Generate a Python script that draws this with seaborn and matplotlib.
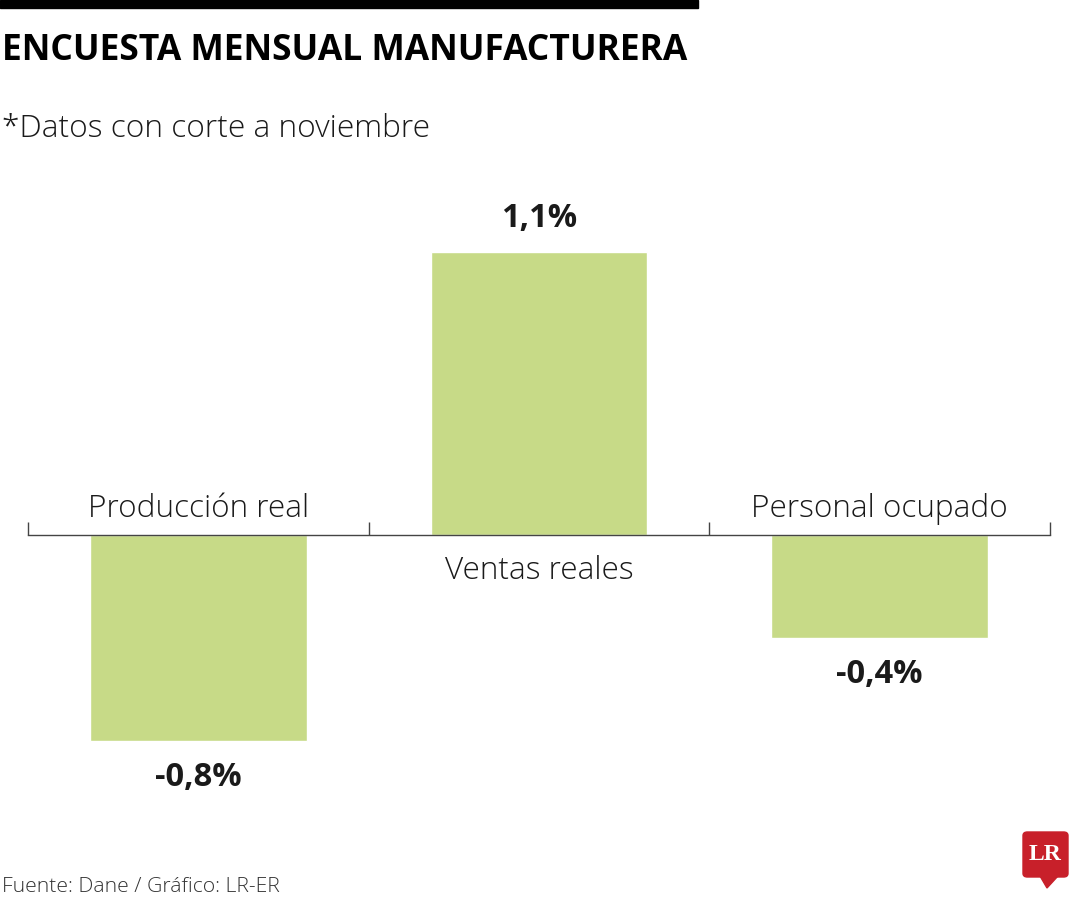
import numpy as np
import pandas as pd
import seaborn as sns
import matplotlib.pyplot as plt
from matplotlib.patches import FancyBboxPatch, Polygon, Rectangle

# === Datos ===
categorias = ["Producción real", "Ventas reales", "Personal ocupado"]
valores = [-0.8, 1.1, -0.4]
etiquetas = ["-0,8%", "1,1%", "-0,4%"]

titulo = "ENCUESTA MENSUAL MANUFACTURERA"
subtitulo = "*Datos con corte a noviembre"
fuente = "Fuente: Dane / Gráfico: LR-ER"

verde = "#c7da87"

sns.set_style("white")
plt.rcParams["font.family"] = ["Open Sans", "DejaVu Sans"]

df = pd.DataFrame({"categoria": categorias, "valor": valores})

W, H = 1080, 900
fig = plt.figure(figsize=(W / 100, H / 100), dpi=100)

# eje: cero en y=535 px, 257.4 px por unidad
y0_px, px_unit = 535, 257.4
top_px, bot_px = 150, 850
ax = fig.add_axes([28 / W, 1 - bot_px / H, 1022 / W, (bot_px - top_px) / H])
sns.barplot(data=df, x="categoria", y="valor", color=verde, width=0.636,
            saturation=1, ax=ax)
ax.set_xlim(-0.5, 2.5)
ax.set_ylim(-(bot_px - y0_px) / px_unit, (y0_px - top_px) / px_unit)

for s in ["top", "right", "left"]:
    ax.spines[s].set_visible(False)
ax.spines["bottom"].set_position(("data", 0))
ax.spines["bottom"].set_color("#444444")
ax.spines["bottom"].set_linewidth(1.0)
ax.set_xticks([-0.5, 0.5, 1.5, 2.5])
ax.set_xticklabels([])
ax.tick_params(axis="x", bottom=True, direction="in", length=9.5, width=1.0,
               color="#444444")
ax.set_yticks([])
ax.set_xlabel("")
ax.set_ylabel("")
ax.patch.set_alpha(0)

# etiquetas de categoria y valores
for i, (cat, val, lab) in enumerate(zip(categorias, valores, etiquetas)):
    off_cat = 13 if val < 0 else -31.7
    ax.annotate(cat, xy=(i, 0), xytext=(0, off_cat), textcoords="offset points",
                ha="center", va="baseline", fontsize=22.7, fontweight="light",
                color="#1a1a1a")
    off_val = 18 if val > 0 else -32.4
    ax.annotate(lab, xy=(i, val), xytext=(0, off_val), textcoords="offset points",
                ha="center", va="baseline", fontsize=23.5, fontweight="bold",
                color="#1a1a1a")

# barra negra superior
fig.patches.append(Rectangle((0, 1 - 8 / H), 698 / W, 8 / H, transform=fig.transFigure,
                             color="black", zorder=5))

fig.text(2 / W, 1 - 60 / H, titulo, fontsize=25.5, fontweight="bold",
         ha="left", va="baseline", color="black")
fig.text(2 / W, 1 - 137 / H, subtitulo, fontsize=22.8, fontweight="light",
         ha="left", va="baseline", color="#1a1a1a")
fig.text(2 / W, 1 - 892 / H, fuente, fontsize=15.2, fontweight="light",
         ha="left", va="baseline", color="#333333")

# logo LR
rojo = "#c8202a"
fig.patches.append(FancyBboxPatch((1023 / W, 1 - 877 / H), 45 / W, 45 / H,
                                  boxstyle="round,pad=0,rounding_size=0.004",
                                  transform=fig.transFigure, color=rojo, zorder=5))
fig.patches.append(Polygon([(1040 / W, 1 - 876 / H), (1058 / W, 1 - 876 / H),
                            (1047 / W, 1 - 888 / H)], closed=True,
                           transform=fig.transFigure, color=rojo, zorder=5))
fig.text(1045.5 / W, 1 - 854 / H, "LR", fontsize=17, fontweight="bold",
         family="Liberation Serif", ha="center", va="center", color="white", zorder=6)

fig.savefig("out.png", dpi=100)
